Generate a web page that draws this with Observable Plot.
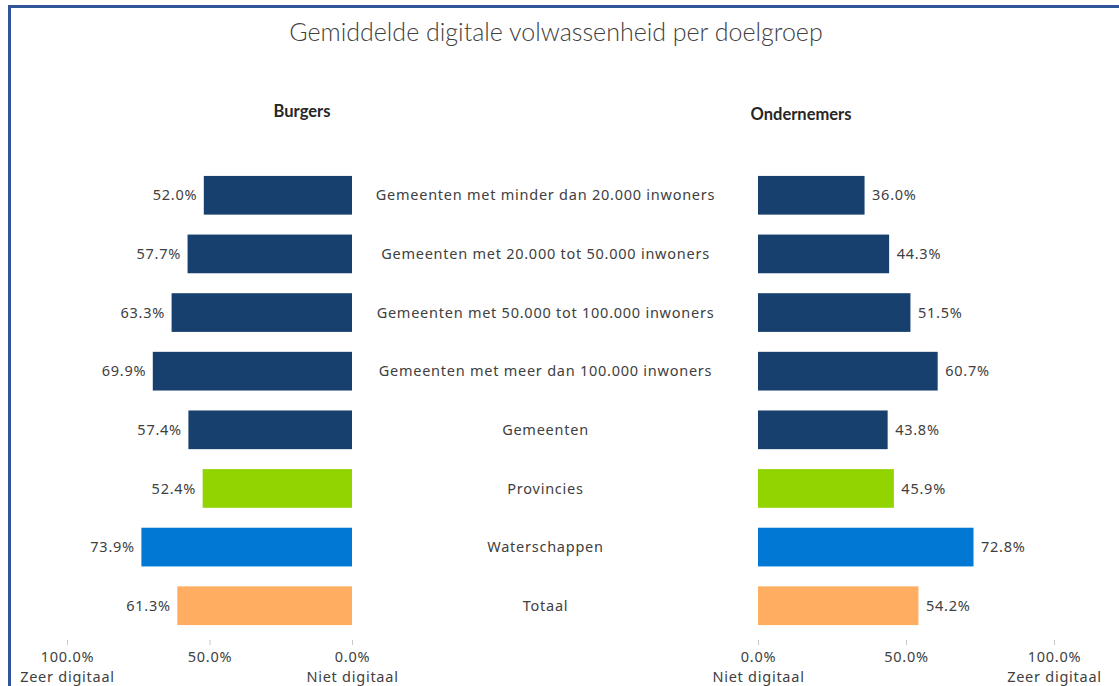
<!DOCTYPE html>
<html>
<head>
<meta charset="utf-8">
<script src="https://cdn.jsdelivr.net/npm/d3@7"></script>
<script src="https://cdn.jsdelivr.net/npm/@observablehq/plot@0.6"></script>
<style>
  html, body { margin: 0; padding: 0; background: #fff; }
  #wrap { position: relative; width: 1119px; height: 686px; overflow: hidden; background: #fff; }
  #frame { position: absolute; left: 8px; top: 5px; width: 1200px; height: 800px; border-top: 3px solid #2F5597; border-left: 3px solid #2F5597; box-sizing: border-box; }
  #title { position: absolute; left: 0; width: 1112px; top: 16px; text-align: center; font-family: Lato, sans-serif; font-weight: 300; font-size: 25px; color: #404040; }
  .sub { position: absolute; font-family: Lato, sans-serif; font-weight: 700; font-size: 16.5px; color: #262626; transform: translateX(-50%); white-space: nowrap; }
  .chart { position: absolute; top: 140px; }
  .chart svg { overflow: visible; }
</style>
</head>
<body>
<div id="wrap">
  <div id="frame"></div>
  <div id="title">Gemiddelde digitale volwassenheid per doelgroep</div>
  <div class="sub" style="left:302px; top:101px;">Burgers</div>
  <div class="sub" style="left:801px; top:104px;">Ondernemers</div>
  <div id="left" class="chart" style="left:0px;"></div>
  <div id="right" class="chart" style="left:560px;"></div>
</div>
<script>
const categories = [
  "Gemeenten met minder dan 20.000 inwoners",
  "Gemeenten met 20.000 tot 50.000 inwoners",
  "Gemeenten met 50.000 tot 100.000 inwoners",
  "Gemeenten met meer dan 100.000 inwoners",
  "Gemeenten",
  "Provincies",
  "Waterschappen",
  "Totaal"
];
const burgers = [52.0, 57.7, 63.3, 69.9, 57.4, 52.4, 73.9, 61.3];
const ondernemers = [36.0, 44.3, 51.5, 60.7, 43.8, 45.9, 72.8, 54.2];
const barColors = ["#17406F", "#17406F", "#17406F", "#17406F", "#17406F", "#92D400", "#0078D4", "#FFAD60"];
const tickValues = [0, 50, 100];
const tickLabels = {0: "0.0%\nNiet digitaal", 50: "50.0%", 100: "100.0%\nZeer digitaal"};

const rows = categories.map((c, i) => ({cat: c, b: burgers[i], o: ondernemers[i], color: barColors[i]}));
const fmt = v => v.toFixed(1) + "%";
const font = {fontFamily: "'Noto Sans', sans-serif", fontSize: "14.5px", color: "#404040", background: "transparent", letterSpacing: "0.75px", overflow: "visible"};

const H = 546, MT = 16, MB = 41;

const left = Plot.plot({
  width: 560, height: H, marginLeft: 67, marginRight: 208, marginTop: MT, marginBottom: MB,
  style: font,
  x: {domain: [0, 100], reverse: true},
  y: {domain: categories, padding: 0.34, round: false},
  color: {type: "identity"},
  marks: [
    Plot.barX(rows, {x: "b", y: "cat", fill: "color"}),
    Plot.text(rows, {x: "b", y: "cat", text: d => fmt(d.b), textAnchor: "end", dx: -7, fill: "#404040", fontSize: 14.5}),
    Plot.axisX({ticks: tickValues, tickFormat: d => tickLabels[d], tickSize: 5, tickPadding: 2, dy: -5, stroke: "#c8c8c8", fill: "#404040", fontSize: 14.5, lineHeight: 1.4, label: null}),
    Plot.axisY({anchor: "right", tickSize: 0, tickPadding: 0, dx: 193, textAnchor: "middle", fill: "#404040", fontSize: 14.5, label: null})
  ]
});
document.getElementById("left").appendChild(left);

const right = Plot.plot({
  width: 559, height: H, marginLeft: 198, marginRight: 65, marginTop: MT, marginBottom: MB,
  style: font,
  x: {domain: [0, 100]},
  y: {domain: categories, padding: 0.34, round: false, axis: null},
  color: {type: "identity"},
  marks: [
    Plot.barX(rows, {x: "o", y: "cat", fill: "color"}),
    Plot.text(rows, {x: "o", y: "cat", text: d => fmt(d.o), textAnchor: "start", dx: 7, fill: "#404040", fontSize: 14.5}),
    Plot.axisX({ticks: tickValues, tickFormat: d => tickLabels[d], tickSize: 5, tickPadding: 2, dy: -5, stroke: "#c8c8c8", fill: "#404040", fontSize: 14.5, lineHeight: 1.4, label: null})
  ]
});
document.getElementById("right").appendChild(right);
</script>
</body>
</html>
